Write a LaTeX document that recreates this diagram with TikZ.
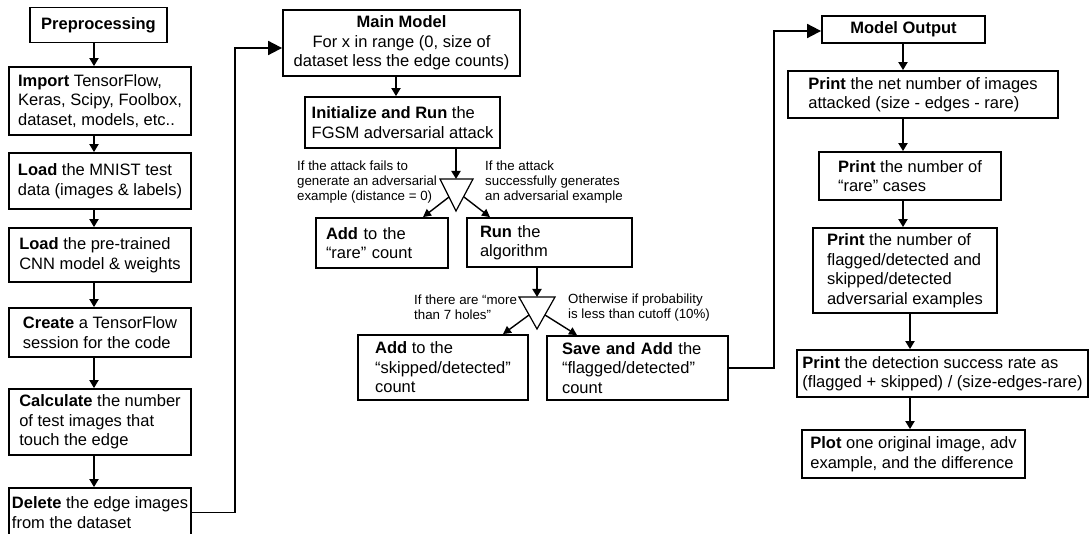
\documentclass[tikz,border=0pt]{standalone}
\usepackage{fontspec}
\setmainfont{Liberation Sans}
\usetikzlibrary{arrows.meta}
\begin{document}
\begin{tikzpicture}[x=1pt,y=-1pt,
  bx/.style={draw, line width=1.8pt, align=left, inner sep=0pt, font=\fontsize{16.5}{19.5}\selectfont},
  lbl/.style={align=left, inner sep=0pt, anchor=west, font=\fontsize{13.3}{15}\selectfont},
  flow/.style={line width=1.8pt, -{Triangle[length=8pt,width=9pt]}},
  big/.style={line width=1.8pt, -{Triangle[length=14pt,width=14pt]}},
  diag/.style={line width=1.4pt, -{Triangle[length=8pt,width=8pt]}},
  tri/.style={line width=1.2pt, line join=miter},
]
\useasboundingbox (0,0) rectangle (1090,534);
\fill[white] (0,0) rectangle (1090,534);
\clip (0,0) rectangle (1090,534);

% ---------- Preprocessing column ----------
\node[bx, align=center, minimum width=137pt, minimum height=35pt] (pre) at (98.5,25) {\textbf{Preprocessing}};
\node[bx, minimum width=182pt, minimum height=68pt] (imp) at (100,101) {\textbf{Import} TensorFlow,\\Keras, Scipy, Foolbox,\\dataset, models, etc..};
\node[bx, minimum width=182pt, minimum height=56pt] (mnist) at (100,181) {\textbf{Load} the MNIST test\\data (images \& labels)};
\node[bx, minimum width=182pt, minimum height=54pt] (cnn) at (100,255) {\textbf{Load} the pre-trained\\CNN model \& weights};
\node[bx, minimum width=182pt, minimum height=49pt] (sess) at (100,332.5) {\textbf{Create} a TensorFlow\\session for the code};
\node[bx, minimum width=182pt, minimum height=66pt] (calc) at (100,422) {\textbf{Calculate} the number\\of test images that\\touch the edge};
\node[bx, minimum width=182pt, minimum height=49pt] (del) at (100,512.5) {\textbf{Delete} the edge images\\from the dataset};

\coordinate (lx) at (94,0);
\draw[flow] (lx |- pre.south) -- (lx |- imp.north);
\draw[flow] (lx |- imp.south) -- (lx |- mnist.north);
\draw[flow] (lx |- mnist.south) -- (lx |- cnn.north);
\draw[flow] (lx |- cnn.south) -- (lx |- sess.north);
\draw[flow] (lx |- sess.south) -- (lx |- calc.north);
\draw[flow] (lx |- calc.south) -- (lx |- del.north);

% ---------- Main model ----------
\node[bx, align=center, minimum width=237pt, minimum height=66pt] (main) at (401.5,43) {\textbf{Main Model}\\For x in range (0, size of\\dataset less the edge counts)};
\node[bx, minimum width=195pt, minimum height=51pt] (init) at (402.5,122.5) {\textbf{Initialize and Run} the\\FGSM adversarial attack};
\node[bx, text width=112pt, minimum width=132pt, minimum height=50pt] (rare) at (382,243) {\textbf{Add} to the\\“rare” count};
\node[bx, text width=139pt, minimum width=165pt, minimum height=49pt] (run) at (549.5,242.5) {\textbf{Run} the\\algorithm};
\node[bx, minimum width=170pt, minimum height=65pt] (skip) at (443,367.5) {\textbf{Add} to the\\“skipped/detected”\\count};
\node[bx, text width=151pt, minimum width=181pt, minimum height=64pt] (save) at (637.5,368) {\textbf{Save and Add} the\\“flagged/detected”\\count};

\coordinate (delc) at (235,48);
\draw[big] (del.east) -| (delc) -- (delc -| main.west);

\coordinate (mx) at (396,0);
\draw[flow] (mx |- main.south) -- (mx |- init.north);

% decision triangle 1
\coordinate (t1l) at (440,179);
\coordinate (t1r) at (473,179);
\coordinate (t1c) at (456,211);
\coordinate (t1top) at (456,179);
\draw[tri] (t1l) -- (t1r) -- (t1c) -- cycle;
\draw[flow] (t1c |- init.south) -- (t1top);
\coordinate (d1s) at (449,197);
\coordinate (d1e) at (423,0);
\coordinate (d2s) at (464,197);
\coordinate (d2e) at (490,0);
\draw[diag] (d1s) -- (d1e |- rare.north);
\draw[diag] (d2s) -- (d2e |- run.north);

\node[lbl] (lab1) at (297,182) {If the attack fails to\\generate an adversarial\\example (distance = 0)};
\node[lbl] (lab2) at (485,182) {If the attack\\successfully generates\\an adversarial example};

% decision triangle 2
\coordinate (t2l) at (519,297);
\coordinate (t2r) at (555,297);
\coordinate (t2c) at (537,329);
\coordinate (t2top) at (537,297);
\draw[tri] (t2l) -- (t2r) -- (t2c) -- cycle;
\draw[flow] (t2top |- run.south) -- (t2top);
\coordinate (d3s) at (529,315);
\coordinate (d3e) at (503,0);
\coordinate (d4s) at (545,315);
\coordinate (d4e) at (577,0);
\draw[diag] (d3s) -- (d3e |- skip.north);
\draw[diag] (d4s) -- (d4e |- save.north);

\node[lbl] (lab3) at (414,307) {If there are “more\\than 7 holes”};
\node[lbl] (lab4) at (568,308) {Otherwise if probability\\is less than cutoff (10\%)};

% ---------- Model output column ----------
\node[bx, align=center, minimum width=163pt, minimum height=27pt] (mo) at (903.5,29.5) {\textbf{Model Output}};
\node[bx, minimum width=270pt, minimum height=47pt] (net) at (923,94.5) {\textbf{Print} the net number of images\\attacked (size - edges - rare)};
\node[bx, minimum width=182pt, minimum height=48pt] (prare) at (910,176) {\textbf{Print} the number of\\“rare” cases};
\node[bx, minimum width=184pt, minimum height=85pt] (flag) at (905,270.5) {\textbf{Print} the number of\\flagged/detected and\\skipped/detected\\adversarial examples};
\node[bx, minimum width=291pt, minimum height=47pt] (det) at (942.5,373.5) {\textbf{Print} the detection success rate as\\(flagged + skipped) / (size-edges-rare)};
\node[bx, minimum width=223pt, minimum height=48pt] (plot) at (913.5,454) {\textbf{Plot} one original image, adv\\example, and the difference};

\coordinate (savec) at (774,31);
\draw[big] (save.east) -| (savec) -- (savec -| mo.west);

\coordinate (rx) at (903,0);
\coordinate (rx2) at (910,0);
\draw[flow] (rx |- mo.south) -- (rx |- net.north);
\draw[flow] (rx |- net.south) -- (rx |- prare.north);
\draw[flow] (rx |- prare.south) -- (rx |- flag.north);
\draw[flow] (rx2 |- flag.south) -- (rx2 |- det.north);
\draw[flow] (rx2 |- det.south) -- (rx2 |- plot.north);
\end{tikzpicture}
\end{document}
